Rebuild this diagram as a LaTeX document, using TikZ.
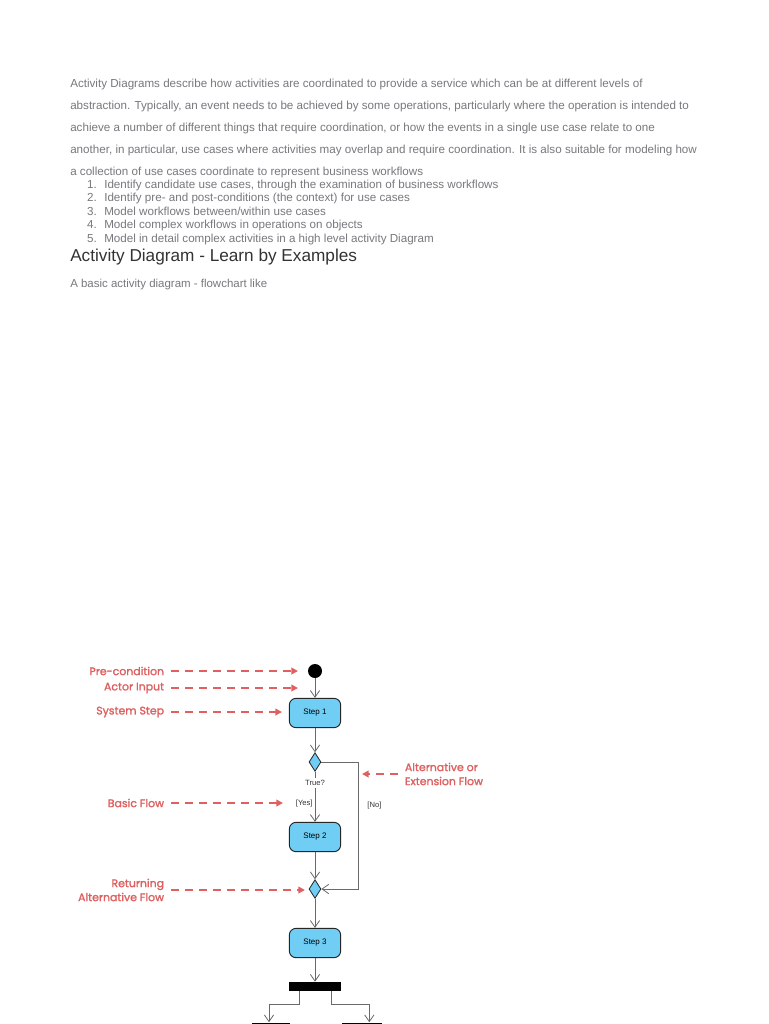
\documentclass[tikz,border=0pt]{standalone}
\usepackage{fontspec}
\setmainfont{Liberation Sans}
\newfontfamily\annfont[FakeBold=1.6]{Poppins}
\usetikzlibrary{shapes.geometric,arrows.meta}
\definecolor{bodygray}{RGB}{120,120,126}
\definecolor{headgray}{RGB}{51,51,51}
\definecolor{annred}{RGB}{222,96,96}
\definecolor{stepblue}{RGB}{112,205,244}
\definecolor{flowgray}{RGB}{105,105,105}
\begin{document}
\begin{tikzpicture}[x=0.75pt,y=-0.75pt,
  body/.style={font=\fontsize{8.72}{10}\selectfont,text=bodygray,anchor=base west,inner sep=0pt},
  stepbox/.style={draw=black!85,line width=0.7pt,fill=stepblue,rounded corners=5pt,minimum width=38.5pt,minimum height=22pt,inner sep=0pt,font=\fontsize{6}{7}\selectfont},
  decision/.style={diamond,draw=black!85,line width=0.6pt,fill=stepblue,minimum width=9pt,minimum height=14pt,inner sep=0pt},
  initial/.style={circle,fill=black,minimum size=10.5pt,inner sep=0pt},
  bar/.style={fill=black,minimum width=38.5pt,minimum height=6.75pt,inner sep=0pt},
  guard/.style={font=\fontsize{5.7}{7}\selectfont,text=black!80,inner sep=1.5pt},
  ann/.style={font=\annfont\fontsize{8.2}{10.5}\selectfont,text=annred,inner xsep=5pt,inner ysep=0pt},
  flow/.style={draw=flowgray,line width=0.6pt,-{Straight Barb[length=5pt,width=7pt]}},
  annarrow/.style={draw=annred,line width=1.3pt,dash pattern=on 6pt off 4.5pt,-{Triangle[length=5pt,width=5pt]}}]
\useasboundingbox (0,0) rectangle (768,1024);
\fill[white] (0,0) rectangle (768,1024);
% introduction text
\node[body] (p1) at (70,88) {Activity Diagrams describe how activities are coordinated to provide a service which can be at different levels of};
\node[body] (p2) at (70,109) {abstraction. Typically, an event needs to be achieved by some operations, particularly where the operation is intended to};
\node[body] (p3) at (70,131) {achieve a number of different things that require coordination, or how the events in a single use case relate to one};
\node[body] (p4) at (70,153) {another, in particular, use cases where activities may overlap and require coordination. It is also suitable for modeling how};
\node[body] (p5) at (70,175) {a collection of use cases coordinate to represent business workflows};
\foreach \y/\txt [count=\i] in {188/{Identify candidate use cases, through the examination of business workflows},
    201/{Identify pre- and post-conditions (the context) for use cases},
    215/{Model workflows between/within use cases},
    228/{Model complex workflows in operations on objects},
    242/{Model in detail complex activities in a high level activity Diagram}}{
  \node[body,anchor=base east] (num\i) at (97,\y) {\i.};
  \node[body] (item\i) at (104,\y) {\txt};
}
\node[body,text=headgray,font=\fontsize{12.9}{14}\selectfont] (title) at (70,261) {Activity Diagram - Learn by Examples};
\node[body,font=\fontsize{8.6}{10}\selectfont] (sub) at (70,287) {A basic activity diagram - flowchart like};
% activity diagram
\node[initial] (start) at (315,671) {};
\node[stepbox] (s1) at (315,713) {Step 1};
\node[decision] (dec) at (315,762) {};
\node[guard,fill=white] (cond) at (315,783) {True?};
\node[stepbox] (s2) at (315,837) {Step 2};
\node[decision] (merge) at (315,889) {};
\node[stepbox] (s3) at (315,943) {Step 3};
\node[bar] (fork) at (315,986.5) {};
\node[bar,minimum width=28.5pt] (j1) at (271,1027) {};
\node[bar,minimum width=30pt] (j2) at (362,1027) {};
\draw[flow] (start) -- (s1);
\draw[flow] (s1) -- (dec);
\draw[flow] (cond) -- node[guard,left,pos=0.45]{[Yes]} (s2);
\draw[draw=flowgray,line width=0.6pt] (dec) -- (cond);
\draw[flow] (dec.east) -- ++(37,0) |- node[guard,right,pos=0.17,xshift=5pt]{[No]} (merge.east);
\draw[flow] (s2) -- (merge);
\draw[flow] (merge) -- (s3);
\draw[flow] (s3) -- (fork);
\draw[flow] ([xshift=-12pt]fork.south) -- ++(0,13) -| ([xshift=-1.5pt]j1.north);
\draw[flow] ([xshift=12pt]fork.south) -- ++(0,13) -| ([xshift=5.5pt]j2.north);
% annotations
\node[ann,anchor=east] (pre) at (171,671) {Pre-condition};
\node[ann,anchor=east] (actor) at (171,688) {Actor Input};
\node[ann,anchor=east] (sys) at (171,712) {System Step};
\node[ann,anchor=east] (basic) at (171,803) {Basic Flow};
\node[ann,anchor=east,align=right] (ret) at (171,890) {Returning\\Alternative Flow};
\node[ann,anchor=west,align=left] (alt) at (398,774) {Alternative or\\Extension Flow};
\coordinate (preT) at (298,671);
\coordinate (actorT) at (298,688);
\coordinate (sysT) at (282,712);
\coordinate (basicT) at (283,803);
\coordinate (retT) at (305,890);
\coordinate (altT) at (362,774);
\foreach \src/\dst in {pre/preT,actor/actorT,sys/sysT,basic/basicT,ret/retT,alt/altT}
  \draw[annarrow] (\src) -- (\dst);
\end{tikzpicture}
\end{document}
